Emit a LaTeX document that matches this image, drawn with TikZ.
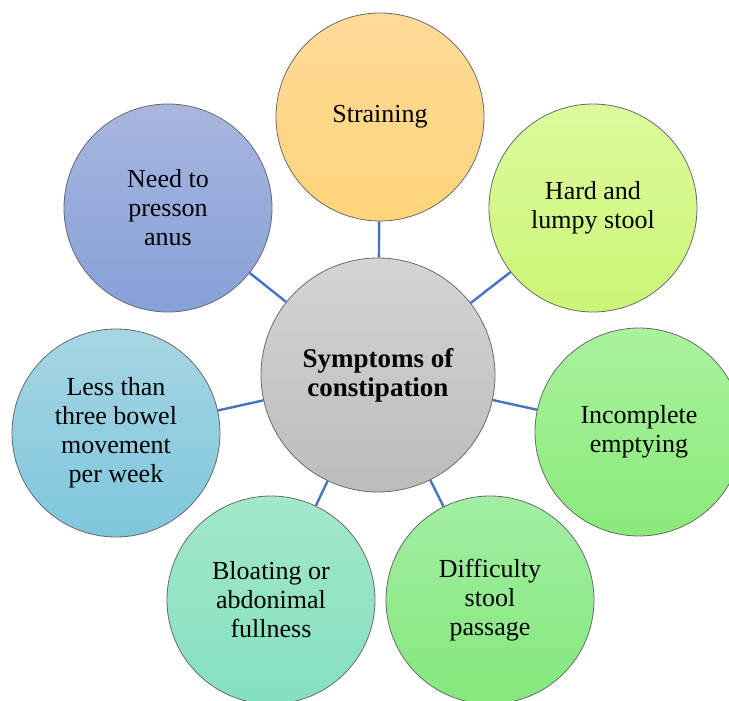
\documentclass[tikz,border=0pt]{standalone}
\usepackage{fontspec}
\setmainfont{Liberation Serif}
\definecolor{linkblue}{HTML}{4472C4}
\definecolor{edgegray}{HTML}{6A6A6A}
\tikzset{
  bubble/.style={circle, draw=edgegray, line width=0.8pt, inner sep=0pt,
    minimum size=208pt, align=center, font=\fontsize{26}{29}\selectfont},
  hub/.style={bubble, minimum size=234pt, top color=gray!35!white, bottom color=gray!50!white,
    font=\bfseries\fontsize{27}{29}\selectfont},
  link/.style={draw=linkblue, line width=2.4pt}
}
\begin{document}
\begin{tikzpicture}[x=1pt,y=-1pt]
\useasboundingbox (0,0) rectangle (729,701);
\clip (0,0) rectangle (729,701);
\definecolor{c1t}{HTML}{FFDA98}\definecolor{c1b}{HTML}{FFD47A}
\definecolor{c2t}{HTML}{A8B6DF}\definecolor{c2b}{HTML}{86A0D8}
\definecolor{c3t}{HTML}{DCFA9C}\definecolor{c3b}{HTML}{CCF576}
\definecolor{c4t}{HTML}{A6D6E4}\definecolor{c4b}{HTML}{7EC6DC}
\definecolor{c5t}{HTML}{AAF29E}\definecolor{c5b}{HTML}{8AEA7A}
\definecolor{c6t}{HTML}{A2E8CA}\definecolor{c6b}{HTML}{84E0BE}
\definecolor{c7t}{HTML}{A2EEA2}\definecolor{c7b}{HTML}{84E87C}
\definecolor{hubt}{HTML}{D4D4D4}\definecolor{hubb}{HTML}{BCBCBC}
\node[hub, top color=hubt, bottom color=hubb] (hub) at (378,375) {Symptoms of\\constipation};
\node[bubble, top color=c1t, bottom color=c1b] (s1) at (380,117) {Straining};
\node[bubble, top color=c2t, bottom color=c2b] (s2) at (168,208) {Need to\\presson\\anus};
\node[bubble, top color=c3t, bottom color=c3b] (s3) at (593,208) {Hard and\\lumpy stool};
\node[bubble, top color=c4t, bottom color=c4b] (s4) at (116,433) {Less than\\three bowel\\movement\\per week};
\node[bubble, top color=c5t, bottom color=c5b] (s5) at (639,432) {Incomplete\\emptying};
\node[bubble, top color=c6t, bottom color=c6b] (s6) at (271,600) {Bloating or\\abdonimal\\fullness};
\node[bubble, top color=c7t, bottom color=c7b] (s7) at (490,600) {Difficulty\\stool\\passage};
\foreach \s in {s1,s2,s3,s4,s5,s6,s7} \draw[link] (hub) -- (\s);
\end{tikzpicture}
\end{document}
